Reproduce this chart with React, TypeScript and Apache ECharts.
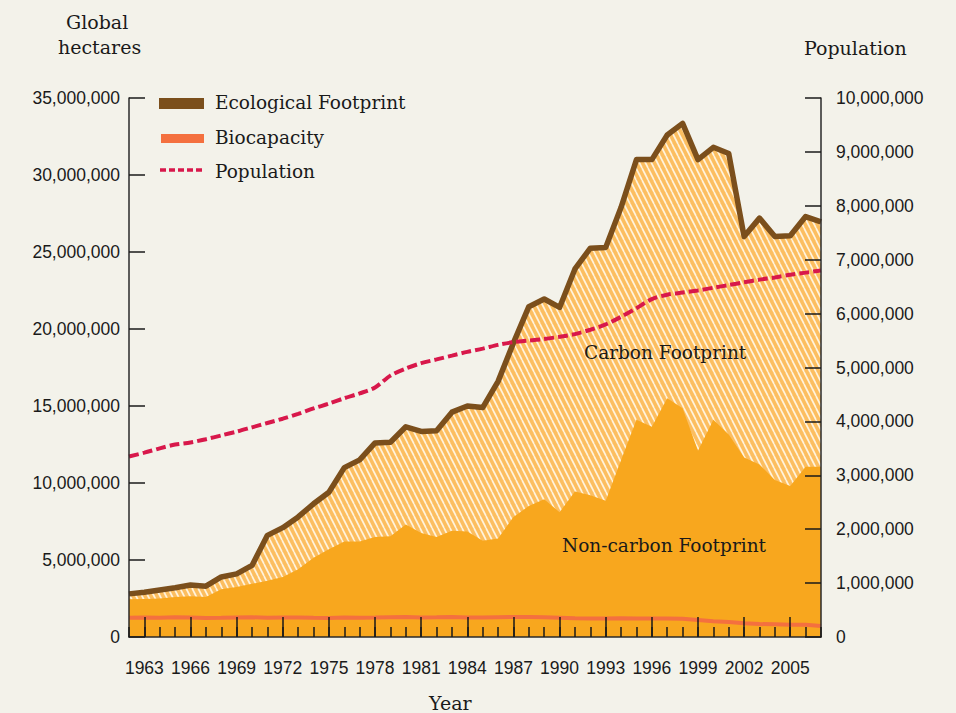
import React, { useEffect, useRef } from "react";
import * as echarts from "echarts";

const years = [
  "1962","1963","1964","1965","1966","1967","1968","1969","1970","1971",
  "1972","1973","1974","1975","1976","1977","1978","1979","1980","1981",
  "1982","1983","1984","1985","1986","1987","1988","1989","1990","1991",
  "1992","1993","1994","1995","1996","1997","1998","1999","2000","2001",
  "2002","2003","2004","2005","2006","2007",
];

// millions of global hectares
const ecologicalFootprint = [
  2.8, 2.9, 3.05, 3.2, 3.38, 3.3, 3.9, 4.1, 4.65, 6.6,
  7.1, 7.8, 8.65, 9.4, 11.0, 11.5, 12.6, 12.65, 13.65, 13.35,
  13.4, 14.6, 15.0, 14.9, 16.6, 19.1, 21.45, 21.95, 21.4, 23.9,
  25.25, 25.3, 27.9, 31.0, 31.0, 32.6, 33.35, 31.0, 31.8, 31.4,
  26.0, 27.2, 26.0, 26.05, 27.3, 26.95,
];

const nonCarbonFootprint = [
  2.45, 2.47, 2.5, 2.6, 2.65, 2.6, 3.1, 3.25, 3.45, 3.65,
  3.9, 4.4, 5.15, 5.7, 6.2, 6.2, 6.5, 6.55, 7.3, 6.75,
  6.5, 6.9, 6.85, 6.25, 6.4, 7.8, 8.5, 8.95, 8.1, 9.45,
  9.2, 8.85, 11.5, 14.1, 13.65, 15.5, 14.85, 12.1, 14.1, 13.15,
  11.65, 11.2, 10.2, 9.8, 11.05, 11.05,
];

const biocapacity = [
  1.25, 1.27, 1.25, 1.28, 1.26, 1.24, 1.25, 1.27, 1.28, 1.25,
  1.26, 1.27, 1.25, 1.24, 1.26, 1.25, 1.26, 1.28, 1.3, 1.27,
  1.28, 1.3, 1.27, 1.26, 1.28, 1.3, 1.3, 1.28, 1.25, 1.22,
  1.2, 1.2, 1.21, 1.2, 1.2, 1.2, 1.18, 1.1, 1.02, 0.97,
  0.9, 0.84, 0.82, 0.8, 0.8, 0.72,
];

// millions of people
const population = [
  3.35, 3.42, 3.5, 3.57, 3.61, 3.67, 3.74, 3.81, 3.89, 3.97,
  4.05, 4.14, 4.24, 4.33, 4.43, 4.52, 4.63, 4.85, 4.98, 5.08,
  5.15, 5.22, 5.29, 5.35, 5.42, 5.47, 5.5, 5.53, 5.57, 5.62,
  5.7, 5.8, 5.94, 6.1, 6.27, 6.35, 6.39, 6.43, 6.48, 6.53,
  6.58, 6.63, 6.67, 6.72, 6.76, 6.8,
];

const legendLabels = ["Ecological Footprint", "Biocapacity", "Population"];

const M = 1e6;
const BG = "#f3f2ea";
const BROWN = "#7b4f1c";
const ORANGE = "#f8a71e";
const HATCH_BG = "#fcbe60";
const BIO = "#f4703f";
const POP = "#d8184b";
const SERIF = "'DejaVu Serif', serif";
const SANS = "'Liberation Sans', Arial, sans-serif";

function fmt(v: number) {
  return v === 0 ? "0" : Math.round(v).toLocaleString("en-US");
}

function makeHatch() {
  const c = document.createElement("canvas");
  c.width = 6;
  c.height = 12;
  const ctx = c.getContext("2d")!;
  ctx.fillStyle = HATCH_BG;
  ctx.fillRect(0, 0, 6, 12);
  ctx.strokeStyle = "#fff3dc";
  ctx.lineWidth = 1.7;
  for (const dx of [-6, 0, 6]) {
    ctx.beginPath();
    ctx.moveTo(dx, 0);
    ctx.lineTo(dx + 6, 12);
    ctx.stroke();
  }
  return c;
}

export default function App() {
  const ref = useRef<HTMLDivElement>(null);

  useEffect(() => {
    if (!ref.current) return;
    const chart = echarts.init(ref.current, null, { renderer: "svg" });
    const hatch = makeHatch();
    const major = (i: number) => (i - 1) % 3 === 0;

    const option: any = {
      animation: false,
      backgroundColor: BG,
      grid: { left: 129, right: 135, top: 98, bottom: 76 },
      xAxis: [
        {
          type: "category",
          data: years,
          boundaryGap: false,
          z: 10,
          axisLine: { show: true, lineStyle: { color: "#2a2a2a", width: 1.5 } },
          axisTick: {
            show: true,
            inside: true,
            length: 20,
            interval: (i: number) => major(i),
            lineStyle: { color: "#1a1a1a", width: 1.5 },
          },
          axisLabel: {
            interval: (i: number) => major(i),
            margin: 22,
            color: "#1a1a1a",
            fontFamily: SANS,
            fontSize: 17.5,
          },
          splitLine: { show: false },
        },
        {
          type: "category",
          data: years,
          boundaryGap: false,
          position: "bottom",
          z: 10,
          axisLine: { show: false },
          axisTick: {
            show: true,
            inside: true,
            length: 10,
            interval: 0,
            lineStyle: { color: "#1a1a1a", width: 1.5 },
          },
          axisLabel: { show: false },
          splitLine: { show: false },
        },
      ],
      yAxis: [
        {
          type: "value",
          min: 0,
          max: 35 * M,
          interval: 5 * M,
          position: "left",
          z: 10,
          axisLine: { show: true, lineStyle: { color: "#2a2a2a", width: 1.5 } },
          axisTick: { show: true, inside: true, length: 16, lineStyle: { color: "#1a1a1a", width: 1.5 } },
          axisLabel: { margin: 9, color: "#1a1a1a", fontFamily: SANS, fontSize: 17.5, formatter: fmt },
          splitLine: { show: false },
        },
        {
          type: "value",
          min: 0,
          max: 10 * M,
          interval: 1 * M,
          position: "right",
          z: 10,
          axisLine: { show: true, lineStyle: { color: "#2a2a2a", width: 1.5 } },
          axisTick: { show: true, inside: true, length: 16, lineStyle: { color: "#1a1a1a", width: 1.5 } },
          axisLabel: { margin: 15, color: "#1a1a1a", fontFamily: SANS, fontSize: 17.5, formatter: fmt },
          splitLine: { show: false },
        },
      ],
      series: [
        {
          name: "Carbon Footprint",
          type: "line",
          data: ecologicalFootprint.map((v) => v * M),
          symbol: "none",
          lineStyle: { width: 0 },
          areaStyle: { color: { image: hatch, repeat: "repeat" }, opacity: 1 },
          z: 1,
        },
        {
          name: "Non-carbon Footprint",
          type: "line",
          data: nonCarbonFootprint.map((v) => v * M),
          symbol: "none",
          lineStyle: { width: 0 },
          areaStyle: { color: ORANGE, opacity: 1 },
          z: 2,
        },
        {
          name: legendLabels[1],
          type: "line",
          data: biocapacity.map((v) => v * M),
          symbol: "none",
          lineStyle: { color: BIO, width: 4 },
          z: 3,
        },
        {
          name: legendLabels[0],
          type: "line",
          data: ecologicalFootprint.map((v) => v * M),
          symbol: "none",
          lineStyle: { color: BROWN, width: 5.5, join: "round" },
          z: 4,
        },
        {
          name: legendLabels[2],
          type: "line",
          yAxisIndex: 1,
          data: population.map((v) => v * M),
          symbol: "none",
          smooth: 0.3,
          lineStyle: { color: POP, width: 4, type: [10, 4] },
          z: 5,
        },
      ],
      graphic: [
        { type: "text", left: 66, top: 12, style: { text: "Global", font: `19px ${SERIF}`, fill: "#1a1a1a" } },
        { type: "text", left: 58, top: 37, style: { text: "hectares", font: `19px ${SERIF}`, fill: "#1a1a1a" } },
        { type: "text", left: 804, top: 38, style: { text: "Population", font: `19px ${SERIF}`, fill: "#1a1a1a" } },
        { type: "text", left: 429, top: 693, style: { text: "Year", font: `19px ${SERIF}`, fill: "#1a1a1a" } },
        { type: "rect", shape: { x: 159, y: 98, width: 45, height: 11 }, style: { fill: BROWN } },
        { type: "rect", shape: { x: 161, y: 134, width: 43, height: 9 }, style: { fill: BIO } },
        {
          type: "line",
          shape: { x1: 160, y1: 170, x2: 205, y2: 170 },
          style: { stroke: POP, lineWidth: 3.5, lineDash: [6, 3] },
        },
        { type: "text", left: 215, top: 93, style: { text: legendLabels[0], font: `18.5px ${SERIF}`, fill: "#1a1a1a" } },
        { type: "text", left: 215, top: 128, style: { text: legendLabels[1], font: `18.5px ${SERIF}`, fill: "#1a1a1a" } },
        { type: "text", left: 215, top: 162, style: { text: legendLabels[2], font: `18.5px ${SERIF}`, fill: "#1a1a1a" } },
        { type: "text", left: 584, top: 343, z: 20, style: { text: "Carbon Footprint", font: `18.5px ${SERIF}`, fill: "#1a1a1a" } },
        { type: "text", left: 562, top: 536, z: 20, style: { text: "Non-carbon Footprint", font: `18.5px ${SERIF}`, fill: "#1a1a1a" } },
      ],
    };

    chart.setOption(option);
    return () => chart.dispose();
  }, []);

  return (
    <div
      ref={ref}
      style={{ position: "absolute", left: 0, top: 0, width: 956, height: 713, background: BG }}
    />
  );
}
